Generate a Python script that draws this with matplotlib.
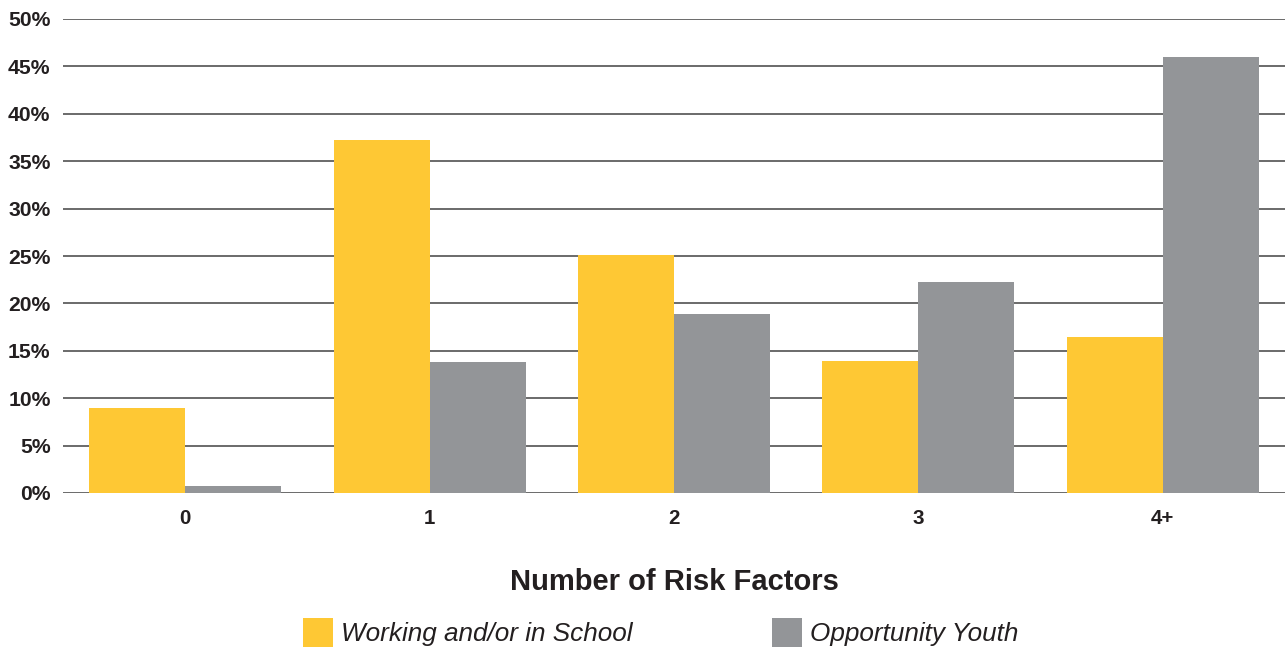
import matplotlib
matplotlib.use("Agg")
import matplotlib.pyplot as plt
import numpy as np
from matplotlib.patches import Patch

categories = ["0", "1", "2", "3", "4+"]
working = [9.0, 37.2, 25.1, 13.9, 16.5]
opportunity = [0.7, 13.8, 18.9, 22.3, 46.0]
series_names = ["Working and/or in School", "Opportunity Youth"]
yticks = [0, 5, 10, 15, 20, 25, 30, 35, 40, 45, 50]
ytick_labels = [f"{v}%" for v in yticks]

YELLOW = "#FEC834"
GRAY = "#939598"

plt.rcParams["font.family"] = ["Liberation Sans", "DejaVu Sans"]

fig = plt.figure(figsize=(12.87, 6.47), dpi=100)
ax = fig.add_axes([63 / 1287, 154 / 647, 1222 / 1287, 474 / 647])

x = np.arange(len(categories))
w = 0.393
ax.bar(x - w / 2, working, width=w, color=YELLOW, zorder=3, label=series_names[0])
ax.bar(x + w / 2, opportunity, width=w, color=GRAY, zorder=3, label=series_names[1])

ax.set_xlim(-0.5, 4.5)
ax.set_ylim(0, 50)
ax.set_yticks(yticks)
ax.set_yticklabels(ytick_labels, fontsize=15.2, fontweight="bold", color="#231f20")
ax.set_xticks(x)
ax.set_xticklabels(categories, fontsize=14.8, fontweight="bold", color="#231f20")
ax.tick_params(axis="y", length=0, pad=9)
ax.tick_params(axis="x", length=0, pad=11.5)
for s in ax.spines.values():
    s.set_visible(False)
ax.yaxis.grid(True, color="#6a6a6a", linewidth=1.4, zorder=0)
ax.set_axisbelow(True)

ax.set_xlabel("Number of Risk Factors", fontsize=21, fontweight="bold", color="#231f20", va="baseline")
ax.xaxis.set_label_coords(0.5, (493 - 590) / 474)

handles = [Patch(facecolor=YELLOW, edgecolor="none"), Patch(facecolor=GRAY, edgecolor="none")]
leg = fig.legend(handles, series_names, loc="lower left", bbox_to_anchor=(303 / 1287, 0.0),
                 ncol=2, frameon=False, borderpad=0, borderaxespad=0,
                 handlelength=1.15, handleheight=1.33, handletextpad=0.3, columnspacing=5.35,
                 prop={"size": 18.8, "style": "italic"})
for t in leg.get_texts():
    t.set_color("#231f20")

fig.savefig("out.png", dpi=100)
